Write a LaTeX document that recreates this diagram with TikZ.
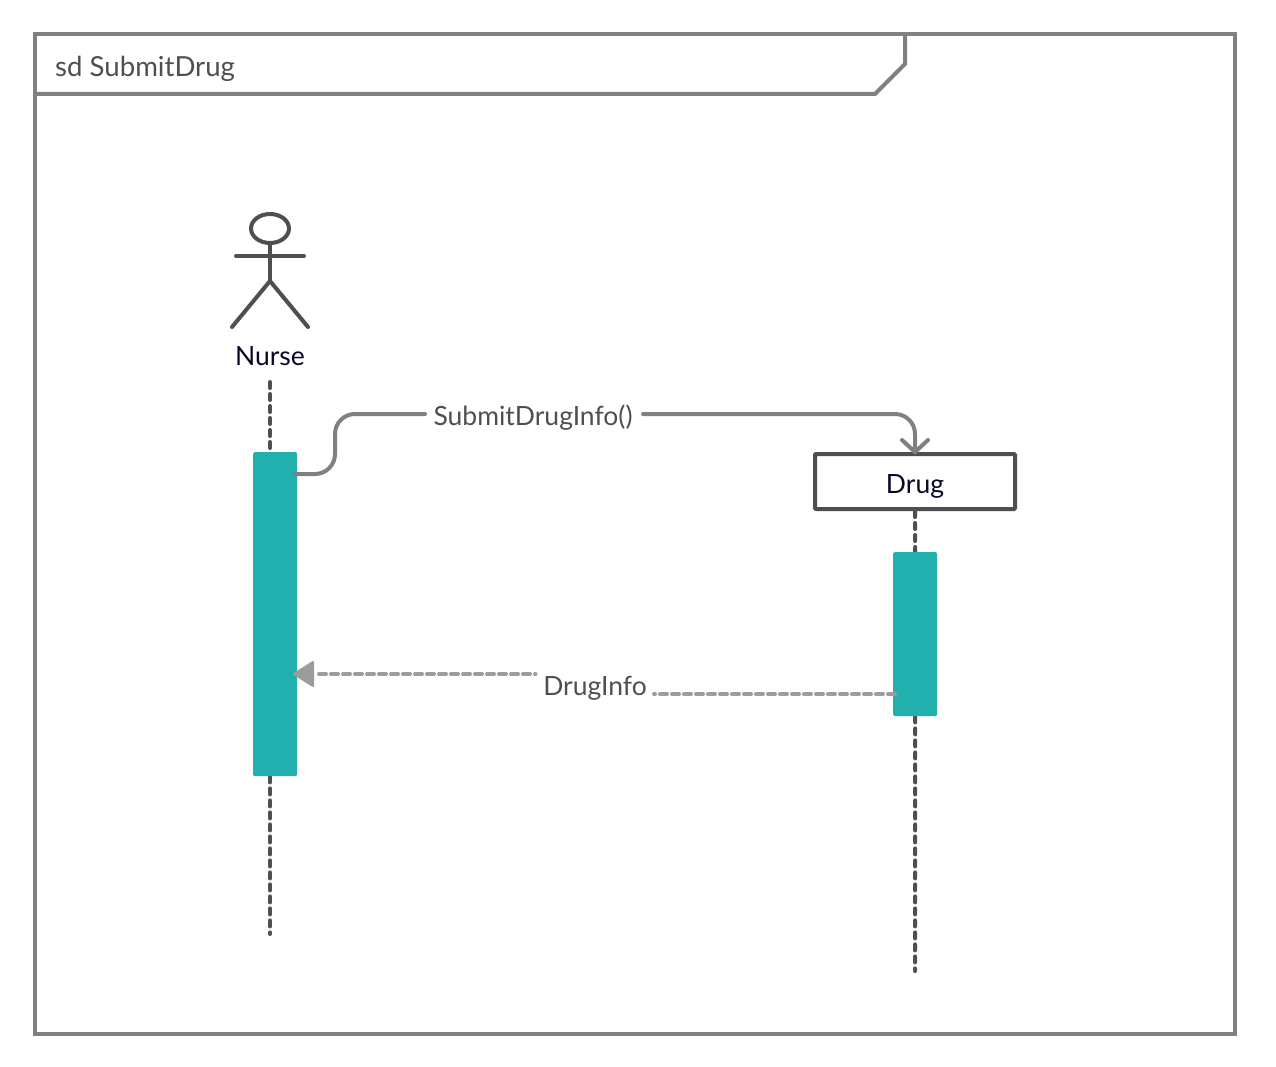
\documentclass[tikz,border=0pt]{standalone}
\usepackage{fontspec}
\setmainfont{Lato}
\usetikzlibrary{backgrounds}
\definecolor{frameC}{HTML}{808080}
\definecolor{darkC}{HTML}{4F4F4F}
\definecolor{retC}{HTML}{9C9C9C}
\definecolor{tealC}{HTML}{22B0AF}
\definecolor{nameC}{HTML}{08082B}
\tikzset{
  x=1pt,y=-1pt,
  framepen/.style={draw=frameC,line width=4pt,line join=miter},
  actpen/.style={draw=darkC,line width=4pt,line cap=round,line join=round},
  lifeline/.style={draw=darkC,line width=4pt,line cap=round,dash pattern=on 6pt off 6pt},
  activation/.style={fill=tealC,draw=none,rounded corners=1.5pt,inner sep=0pt,minimum width=44pt},
  msgtext/.style={font=\fontsize{26.5}{32}\selectfont,text=darkC,inner sep=0pt},
  titletext/.style={font=\fontsize{27.6}{32}\selectfont,text=darkC,inner sep=0pt},
  nametext/.style={font=\fontsize{26.5}{32}\selectfont,text=nameC,inner sep=0pt},
  callpen/.style={draw=frameC,line width=4pt,rounded corners=20pt,line cap=round},
  retpen/.style={draw=retC,line width=4pt,line cap=round,dash pattern=on 7pt off 5pt},
  objbox/.style={draw=darkC,line width=4pt,fill=white,minimum width=200pt,minimum height=55pt,inner sep=0pt,rounded corners=1pt},
}
\begin{document}
\begin{tikzpicture}
\useasboundingbox (0,0) rectangle (1276,1067);
\begin{scope}[on background layer]
\fill[white] (0,0) rectangle (1276,1067);
\end{scope}
% frame
\draw[framepen] (35,34) rectangle (1235,1034);
\draw[framepen] (905,34) -- (905,64) -- (875,94) -- (35,94);
\node[titletext,anchor=base west] (title) at (55,76.5) {sd SubmitDrug};
% actor
\draw[actpen] (270,228.5) ellipse [x radius=19pt,y radius=14.5pt];
\draw[actpen] (270,243) -- (270,281);
\draw[actpen] (236,256) -- (304,256);
\draw[actpen] (232,327) -- (270,281) -- (308,327);
\node[nametext,anchor=base] (nurse) at (270,365.8) {Nurse};
% anchors for lifeline ends
\coordinate (nurseTop) at (270,382);
\coordinate (nurseEnd) at (270,934);
\coordinate (drugEnd) at (915,971);
% activation bars
\node[activation,minimum height=324pt,anchor=north west] (actA) at (253,452) {};
\node[activation,minimum height=164pt,anchor=north west] (actB) at (893,552) {};
% object
\node[objbox] (drug) at (915,481.5) {};
\node[nametext,anchor=base] (drugname) at (915,493.8) {Drug};
% lifelines
\begin{scope}[on background layer]
\draw[lifeline] (nurseTop) -- (actA.north -| nurseTop);
\draw[lifeline] (actA.south -| nurseTop) -- (nurseEnd);
\draw[lifeline] (drug.south) -- (actB.north);
\draw[lifeline] (actB.south) -- (drugEnd);
\end{scope}
% call message
\node[msgtext,anchor=base] (call) at (533,425.8) {SubmitDrugInfo()};
\coordinate (callStart) at (295,474);
\coordinate (callA) at (425,414);
\coordinate (callB) at (643,414);
\draw[callpen] (callStart) -- (335,474) -- (335,414) -- (callA);
\draw[callpen] (callB) -- (915,414) -- (drug.north);
\draw[draw=frameC,line width=4pt,line cap=round,line join=miter] (902,440) -- (drug.north) -- (928,440);
% return message
\node[msgtext,anchor=base] (ret) at (595,695.8) {DrugInfo};
\coordinate (retStart) at (895,694);
\coordinate (retA) at (654,694);
\coordinate (retB) at (535.5,674);
\coordinate (retC) at (319,674);
\coordinate (retTip) at (294,674);
\draw[retpen] (retStart) -- (retA);
\draw[retpen] (retC) -- (retB);
\fill[retC,draw=retC,line width=2pt,line join=round] (retTip) -- (313,662) -- (313,686) -- cycle;
\end{tikzpicture}
\end{document}
